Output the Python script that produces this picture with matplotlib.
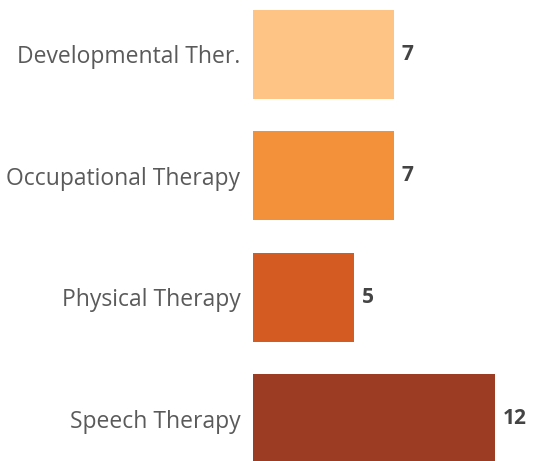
import matplotlib
matplotlib.use("Agg")
import matplotlib.pyplot as plt

categories = ["Developmental Ther.", "Occupational Therapy", "Physical Therapy", "Speech Therapy"]
values = [7, 7, 5, 12]
colors = ["#FDC485", "#F3903A", "#D45B22", "#9C3C22"]

fig = plt.figure(figsize=(5.5, 4.61), dpi=100)
ax = fig.add_axes([253/550, 0, 297/550, 1])
pos = list(range(len(categories)))
ax.barh(pos, values, height=0.735, color=colors)
ax.set_xlim(0, 297/ (242/12))
ax.set_ylim(3.350, -0.449)
for s in ax.spines.values():
    s.set_visible(False)
ax.set_xticks([])
ax.set_yticks(pos)
ax.set_yticklabels(categories, fontsize=16.5, color="#5a5a5a", family="Open Sans")
ax.tick_params(axis="y", length=0, pad=9)
for p, v in zip(pos, values):
    ax.annotate(str(v), (v, p), xytext=(5.5, 0), textcoords="offset points",
                va="center", ha="left", fontsize=15, fontweight="bold",
                color="#444444", family="Open Sans")
fig.savefig("out.png", dpi=100)
